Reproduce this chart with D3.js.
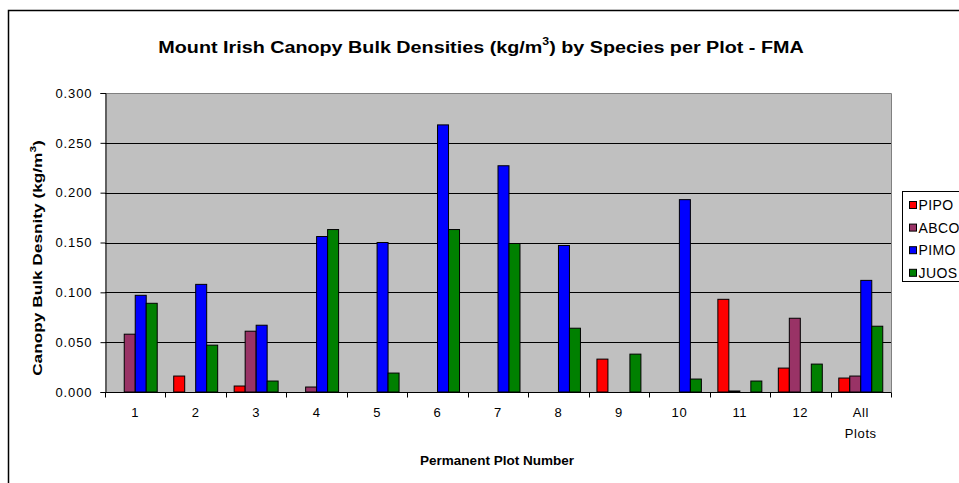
<!DOCTYPE html>
<html>
<head>
<meta charset="utf-8">
<script src="https://cdn.jsdelivr.net/npm/d3@7"></script>
<style>
  html, body { margin: 0; padding: 0; background: #fff; }
  svg { display: block; font-family: "Liberation Sans", Arial, sans-serif; }
</style>
</head>
<body>
<svg id="chart" width="959" height="483"></svg>
<script>
// Plot categories (permanent plots plus the all-plot average)
const plots = ["1", "2", "3", "4", "5", "6", "7", "8", "9", "10", "11", "12", "All Plots"];

// Canopy bulk density (kg/m^3) by species, one value per plot
const pipo = [0, 0.016, 0.006, 0, 0, 0, 0, 0, 0.033, 0, 0.093, 0.024, 0.014];
const abco = [0.058, 0, 0.061, 0.005, 0, 0, 0, 0, 0, 0, 0.001, 0.074, 0.016];
const pimo = [0.097, 0.108, 0.067, 0.156, 0.150, 0.268, 0.227, 0.147, 0, 0.193, 0, 0, 0.112];
const juos = [0.089, 0.047, 0.011, 0.163, 0.019, 0.163, 0.149, 0.064, 0.038, 0.013, 0.011, 0.028, 0.066];

const speciesNames = ["PIPO", "ABCO", "PIMO", "JUOS"];
const speciesColors = ["#FF0000", "#993366", "#0000FF", "#008000"];
const yTicks = [0, 0.05, 0.10, 0.15, 0.20, 0.25, 0.30];

const seriesValues = [pipo, abco, pimo, juos];

const svg = d3.select("#chart");

// Stretch a text element horizontally (in its own frame) to a given length,
// anchored at its text-anchor point.
function fitLength(sel, target, base) {
  const w = sel.node().getBBox().width || target;
  sel.attr("transform", `${base} scale(${target / w},1)`);
}

// Outer chart frame
svg.append("rect")
  .attr("x", 8.5).attr("y", 10.5)
  .attr("width", 980).attr("height", 500)
  .attr("fill", "#fff").attr("stroke", "#000").attr("stroke-width", 1.5);

const plot = { left: 105, right: 891, top: 93, bottom: 392 };

const x = d3.scaleBand()
  .domain(plots)
  .range([plot.left, plot.right])
  .paddingInner(0).paddingOuter(0);

// 4 bars per category with a 150% gap
const barW = x.bandwidth() / 5.5;
const xs = d3.scaleBand()
  .domain(speciesNames)
  .range([x.bandwidth() * 0.75 / 5.5, x.bandwidth() * 0.75 / 5.5 + barW * 4]);

const y = d3.scaleLinear().domain([0, 0.3]).range([plot.bottom, plot.top]);

// Plot area background
svg.append("rect")
  .attr("x", plot.left).attr("y", plot.top)
  .attr("width", plot.right - plot.left).attr("height", plot.bottom - plot.top)
  .attr("fill", "#C0C0C0");

// Horizontal gridlines
svg.append("g")
  .selectAll("line")
  .data(yTicks.filter(t => t > 0 && t < 0.3))
  .join("line")
  .attr("x1", plot.left).attr("x2", plot.right)
  .attr("y1", d => Math.round(y(d)) + 0.5).attr("y2", d => Math.round(y(d)) + 0.5)
  .attr("stroke", "#000").attr("stroke-width", 1);

// Plot area border (top & right)
svg.append("path")
  .attr("d", `M${plot.left},${plot.top + 0.5}H${plot.right + 0.5}V${plot.bottom}`)
  .attr("fill", "none").attr("stroke", "#808080").attr("stroke-width", 1);

// Bars
const groups = svg.append("g")
  .selectAll("g")
  .data(plots)
  .join("g")
  .attr("transform", d => `translate(${x(d)},0)`);

groups.selectAll("rect")
  .data((d, i) => speciesNames.map((s, k) => ({ s, k, v: seriesValues[k][i] })))
  .join("rect")
  .filter(d => d.v > 0)
  .attr("x", d => xs(d.s))
  .attr("width", xs.bandwidth())
  .attr("y", d => y(d.v))
  .attr("height", d => y(0) - y(d.v))
  .attr("fill", d => speciesColors[d.k])
  .attr("stroke", "#000").attr("stroke-width", 1);

// Y axis
const yAxis = d3.axisLeft(y)
  .tickValues(yTicks)
  .tickFormat(d3.format(".3f"))
  .tickSize(5).tickPadding(8);
const gy = svg.append("g")
  .attr("transform", `translate(${plot.left + 0.5},0)`)
  .call(yAxis);
gy.select(".domain").attr("stroke", "#000");
gy.selectAll("text").attr("font-size", 13).attr("fill", "#000")
  .attr("letter-spacing", 0.9)
  .attr("font-family", "Liberation Sans, Arial, sans-serif");

// X axis: ticks sit on category boundaries
const gx = svg.append("g")
  .attr("transform", `translate(0,${plot.bottom + 0.5})`);
gx.append("line")
  .attr("x1", plot.left).attr("x2", plot.right + 0.5)
  .attr("stroke", "#000");
gx.selectAll("line.tick")
  .data(plots.map(p => x(p)).concat([plot.right]))
  .join("line")
  .attr("class", "tick")
  .attr("x1", d => Math.round(d) + 0.5).attr("x2", d => Math.round(d) + 0.5)
  .attr("y1", 0).attr("y2", 5)
  .attr("stroke", "#000");
const xl = gx.selectAll("text")
  .data(plots)
  .join("text")
  .attr("x", d => x(d) + x.bandwidth() / 2)
  .attr("y", 24)
  .attr("text-anchor", "middle")
  .attr("font-size", 13)
  .attr("letter-spacing", 0.6)
  .attr("fill", "#000");
xl.each(function(d) {
  const words = d.split(" ");
  const t = d3.select(this);
  words.forEach((w, i) => {
    t.append("tspan").attr("x", x(d) + x.bandwidth() / 2).attr("dy", i === 0 ? 0 : 21).text(w);
  });
});

// Title
const title = svg.append("text")
  .attr("x", 0).attr("y", 0)
  .attr("text-anchor", "middle")
  .attr("font-size", 16).attr("font-weight", "bold")
  .attr("fill", "#000");
title.append("tspan").text("Mount Irish Canopy Bulk Densities (kg/m");
title.append("tspan").attr("dy", -8).attr("font-size", 10).text("3");
title.append("tspan").attr("dy", 8).text(") by Species per Plot - FMA");
fitLength(title, 646, "translate(481,53)");

// Y axis title
const yt = svg.append("text")
  .attr("x", 0).attr("y", 0)
  .attr("text-anchor", "middle")
  .attr("font-size", 13).attr("font-weight", "bold")
  .attr("fill", "#000");
yt.append("tspan").text("Canopy Bulk Desnity (kg/m");
yt.append("tspan").attr("dy", -6).attr("font-size", 9).text("3");
yt.append("tspan").attr("dy", 6).text(")");
fitLength(yt, 236, "translate(42,258) rotate(-90)");

// X axis title
const xt = svg.append("text")
  .attr("x", 0).attr("y", 0)
  .attr("text-anchor", "middle")
  .attr("font-size", 13).attr("font-weight", "bold")
  .attr("fill", "#000")
  .text("Permanent Plot Number");
fitLength(xt, 154, "translate(497,465)");

// Legend
const lg = svg.append("g");
lg.append("rect")
  .attr("x", 902.5).attr("y", 191.5)
  .attr("width", 80).attr("height", 90)
  .attr("fill", "#fff").attr("stroke", "#000").attr("stroke-width", 1);
const items = lg.selectAll("g.item")
  .data(speciesNames)
  .join("g")
  .attr("class", "item")
  .attr("transform", (d, i) => `translate(909.5,${205 + i * 22.6})`);
items.append("rect")
  .attr("x", 0).attr("y", -3.5)
  .attr("width", 7).attr("height", 7)
  .attr("fill", (d, i) => speciesColors[i])
  .attr("stroke", "#000").attr("stroke-width", 1);
items.append("text")
  .attr("x", 9).attr("y", 5)
  .attr("font-size", 14).attr("letter-spacing", 0.4).attr("fill", "#000")
  .text(d => d);
</script>
</body>
</html>
